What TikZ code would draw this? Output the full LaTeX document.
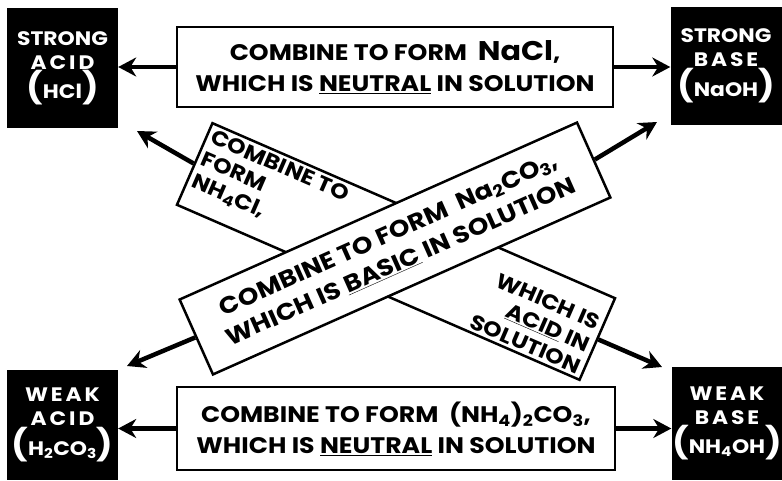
\documentclass[tikz,border=0pt]{standalone}
\usepackage{fontspec}
\setmainfont{Poppins}[FakeStretch=1.12]
\usetikzlibrary{arrows.meta, positioning, calc}
\newcommand{\opar}{{\fontsize{31}{31}\selectfont(}}
\newcommand{\cpar}{{\fontsize{31}{31}\selectfont)}}
\newcommand{\spaced}[1]{{\addfontfeature{LetterSpace=15}#1}}

\begin{document}
\begin{tikzpicture}[x=1pt, y=-1pt,
  font=\bfseries,
  pole/.style={fill=black, text=white, align=center, minimum width=111pt, inner sep=0pt,
               font=\bfseries\fontsize{19.5}{24}\selectfont},
  chem/.style={draw, line width=2.5pt, fill=white, align=center, inner sep=0pt,
               font=\bfseries\fontsize{22.5}{31}\selectfont},
  banner/.style={draw, line width=2.5pt, fill=white, inner sep=0pt, align=center,
                 font=\bfseries\fontsize{23.5}{30}\selectfont},
  bantext/.style={font=\bfseries\fontsize{21}{24}\selectfont, inner xsep=6pt, inner ysep=5pt},
  ar/.style={line width=4.5pt, -{Stealth[length=18pt, width=19pt]}},
]
\useasboundingbox (0,0) rectangle (782,480);

% the four reagents
\node[pole, minimum height=120pt] (sacid) at (62.5,68) {STRONG\\\spaced{ACID}\\\opar HCl\cpar};
\node[pole, minimum height=118pt] (sbase) at (726,66) {STRONG\\\spaced{BASE}\\\opar NaOH\cpar};
\node[pole, minimum height=110pt] (wacid) at (62.5,425) {\spaced{WEAK}\\\spaced{ACID}\\\opar H\textsubscript{2}CO\textsubscript{3}\cpar};
\node[pole, minimum height=113pt] (wbase) at (727,423.5) {\spaced{WEAK}\\\spaced{BASE}\\\opar NH\textsubscript{4}OH\cpar};

% salts of strong/strong and weak/weak
\node[chem, minimum width=436pt, minimum height=80pt] (nacl) at (395,67)
  {COMBINE TO FORM \ {\fontsize{27}{31}\selectfont NaCl},\\WHICH IS \underline{NEUTRAL} IN SOLUTION};
\node[chem, minimum width=438pt, minimum height=83pt] (amco) at (396,428.5)
  {COMBINE TO FORM \ (NH\textsubscript{4})\textsubscript{2}CO\textsubscript{3},\\WHICH IS \underline{NEUTRAL} IN SOLUTION};

\draw[ar] (nacl.west) -- (nacl.west -| sacid.east);
\draw[ar] (nacl.east) -- (nacl.east -| sbase.west);
\draw[ar] (amco.west) -- (amco.west -| wacid.east);
\draw[ar] (amco.east) -- (amco.east -| wbase.west);

% crossed banners
\coordinate (nwtip) at (137,131);
\coordinate (setip) at (662,367);
\coordinate (netip) at (657,122);
\coordinate (swtip) at (127,366);

\node[banner, rotate=-23.5, minimum width=439pt, minimum height=89pt] (nhcl) at (396,251.5) {};
\node[bantext, rotate=-23.5, anchor=north west, align=left] (nhclL) at (nhcl.north west)
  {COMBINE TO\\FORM\\NH\textsubscript{4}Cl,};
\node[bantext, rotate=-23.5, anchor=south east, align=right] (nhclR) at (nhcl.south east)
  {WHICH IS\\\underline{ACID} IN\\SOLUTION};
\draw[ar] (nhcl.west) -- (nwtip);
\draw[ar] (nhcl.east) -- (setip);

\node[banner, rotate=24, minimum width=435pt, minimum height=82pt] (naco) at (395,248.5)
  {COMBINE TO FORM \ Na\textsubscript{2}CO\textsubscript{3},\\WHICH IS \underline{BASIC} IN SOLUTION};
\draw[ar] (naco.west) -- (swtip);
\draw[ar] (naco.east) -- (netip);
\end{tikzpicture}
\end{document}
